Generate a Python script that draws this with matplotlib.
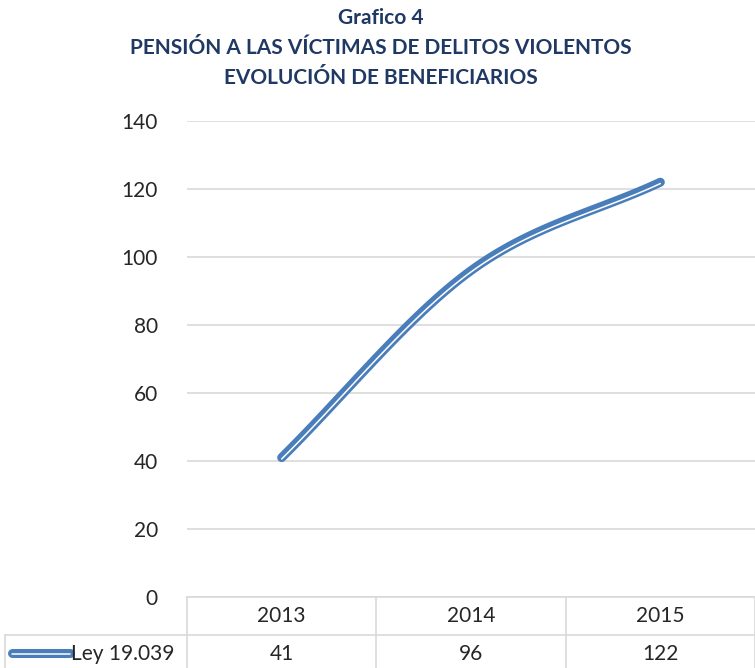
import numpy as np
import matplotlib.pyplot as plt
from matplotlib.transforms import blended_transform_factory

years = ["2013", "2014", "2015"]
beneficiarios = [41, 96, 122]
serie = "Ley 19.039"
titulo = ["Grafico 4", "PENSIÓN A LAS VÍCTIMAS DE DELITOS VIOLENTOS", "EVOLUCIÓN DE BENEFICIARIOS"]
yticks = [0, 20, 40, 60, 80, 100, 120, 140]

plt.rcParams['font.family'] = ['Lato', 'DejaVu Sans']
blue = '#4A7EBB'
grid = '#D9D9D9'
navy = '#1F3864'
txt = '#262626'


def smooth(x, y, n=60):
    # catmull-rom like excel's smoothed line
    x = np.asarray(x, float)
    y = np.asarray(y, float)
    px = np.concatenate([[2 * x[0] - x[1]], x, [2 * x[-1] - x[-2]]])
    py = np.concatenate([[2 * y[0] - y[1]], y, [2 * y[-1] - y[-2]]])
    xs, ys = [], []
    for i in range(1, len(px) - 2):
        t = np.linspace(0, 1, n)
        for p, out in ((px, xs), (py, ys)):
            p0, p1, p2, p3 = p[i - 1], p[i], p[i + 1], p[i + 2]
            out.extend(0.5 * (2 * p1 + (-p0 + p2) * t + (2 * p0 - 5 * p1 + 4 * p2 - p3) * t ** 2
                              + (-p0 + 3 * p1 - 3 * p2 + p3) * t ** 3))
    return np.array(xs), np.array(ys)


fig = plt.figure(figsize=(7.55, 6.68), dpi=100)
ax = fig.add_axes([187 / 755, 71 / 668, 568 / 755, 476 / 668])

xs = np.arange(len(years))
sx, sy = smooth(xs, beneficiarios)
ax.plot(sx, sy, color=blue, lw=6.5, solid_capstyle='round', zorder=3)
ax.plot(sx, sy - 0.4, color='white', lw=1.1, solid_capstyle='round', zorder=4)

ax.set_xlim(-0.5, len(years) - 0.5)
ax.set_ylim(0, 140)
ax.set_yticks(yticks)
ax.set_yticklabels([str(v) for v in yticks], fontsize=15, color=txt)
ax.tick_params(axis='y', length=0, pad=21)
ax.set_xticks([])
ax.grid(axis='y', color=grid, lw=1.2)
for s in ax.spines.values():
    s.set_visible(False)

# data table under the axis
tr = blended_transform_factory(ax.transData, fig.transFigure)
y0, y1, y2 = 71 / 668, 33 / 668, 0.0
for k in range(len(years) + 1):
    ax.plot([k - 0.5, k - 0.5], [y0, y2], transform=tr, color=grid, lw=1.2, clip_on=False)
ax.plot([-0.5, len(years) - 0.5], [y0, y0], transform=tr, color=grid, lw=1.2, clip_on=False)
fig.add_artist(plt.Line2D([5 / 755, 1], [y1, y1], color=grid, lw=1.2))
fig.add_artist(plt.Line2D([5 / 755, 5 / 755], [y1, y2], color=grid, lw=1.2))
for k, (yr, v) in enumerate(zip(years, beneficiarios)):
    ax.text(k, 52 / 668, yr, transform=tr, ha='center', va='center', fontsize=15, color=txt)
    ax.text(k, 14 / 668, str(v), transform=tr, ha='center', va='center', fontsize=15, color=txt)
fig.add_artist(plt.Line2D([12 / 755, 70 / 755], [15 / 668, 15 / 668], color=blue, lw=6.5, solid_capstyle='round'))
fig.add_artist(plt.Line2D([12 / 755, 70 / 755], [14.5 / 668, 14.5 / 668], color='white', lw=1.1, solid_capstyle='round'))
fig.text(71 / 755, 14 / 668, serie, ha='left', va='center', fontsize=15, color=txt)

# titles
for t, yy in zip(titulo, [18, 48, 78]):
    fig.text(381 / 755, 1 - yy / 668, t, ha='center', va='center', fontsize=15,
             fontweight='bold', color=navy)

fig.savefig('out.png', dpi=100)
